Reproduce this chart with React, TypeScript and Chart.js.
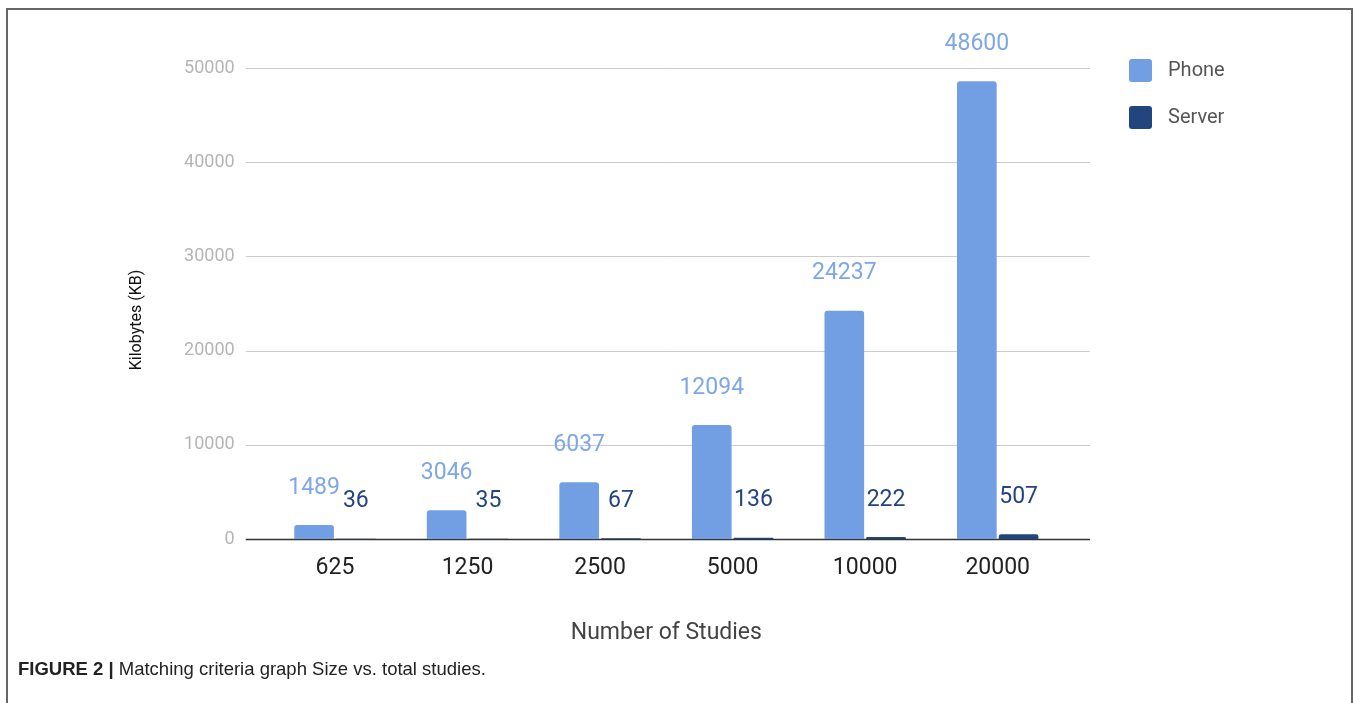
import React, { useEffect, useRef } from "react";
import { Chart, registerables } from "chart.js";

Chart.register(...registerables);

const categories = ["625", "1250", "2500", "5000", "10000", "20000"];
const phoneValues = [1489, 3046, 6037, 12094, 24237, 48600];
const serverValues = [36, 35, 67, 136, 222, 507];
const seriesNames = ["Phone", "Server"];
const seriesColors = ["#729fe4", "#23457f"];
const labelColors = ["#7ea6e8", "#23457f"];
const yTicks = [0, 10000, 20000, 30000, 40000, 50000];
const yTitle = "Kilobytes (KB)";

const FONT = "Roboto, 'Liberation Sans', Arial, sans-serif";

export default function App() {
  const ref = useRef<HTMLCanvasElement | null>(null);

  useEffect(() => {
    document.body.style.margin = "0";
    const canvas = ref.current;
    if (!canvas) return;

    const gridPlugin = {
      id: "gridExt",
      beforeDatasetsDraw(chart: any) {
        const { ctx, chartArea } = chart;
        const y = chart.scales.y;
        ctx.save();
        for (const v of yTicks) {
          const py = Math.round(y.getPixelForValue(v)) + 0.5;
          ctx.beginPath();
          ctx.strokeStyle = v === 0 ? "#333333" : "#cccccc";
          ctx.lineWidth = v === 0 ? 1.5 : 1;
          ctx.moveTo(chartArea.left - 23, py);
          ctx.lineTo(chartArea.right + 26, py);
          ctx.stroke();
        }
        // y axis title
        ctx.translate(137, 320);
        ctx.rotate(-Math.PI / 2);
        ctx.fillStyle = "#111111";
        ctx.font = `16px ${FONT}`;
        ctx.textAlign = "center";
        ctx.textBaseline = "middle";
        ctx.fillText(yTitle, 0, 0);
        ctx.restore();
      },
    };

    const labelPlugin = {
      id: "barLabels",
      afterDatasetsDraw(chart: any) {
        const { ctx } = chart;
        ctx.save();
        ctx.font = `23px ${FONT}`;
        ctx.textAlign = "center";
        ctx.textBaseline = "middle";
        chart.data.datasets.forEach((ds: any, di: number) => {
          const meta = chart.getDatasetMeta(di);
          ctx.fillStyle = labelColors[di];
          meta.data.forEach((bar: any, i: number) => {
            ctx.fillText(String(ds.data[i]), bar.x, bar.y - 37);
          });
        });
        ctx.restore();
      },
    };

    const legendPlugin = {
      id: "customLegend",
      afterDraw(chart: any) {
        const { ctx } = chart;
        ctx.save();
        chart.data.datasets.forEach((ds: any, i: number) => {
          const top = 59 + i * 47;
          ctx.fillStyle = seriesColors[i];
          ctx.beginPath();
          (ctx as any).roundRect(1129, top, 23, 23, 3);
          ctx.fill();
          ctx.fillStyle = "#555555";
          ctx.font = `20px ${FONT}`;
          ctx.textAlign = "left";
          ctx.textBaseline = "middle";
          ctx.fillText(ds.label, 1168, top + 12);
        });
        ctx.restore();
      },
    };

    const chart = new Chart(canvas, {
      type: "bar",
      data: {
        labels: categories,
        datasets: [
          {
            label: seriesNames[0],
            data: phoneValues,
            backgroundColor: seriesColors[0],
            borderRadius: 3,
            borderSkipped: "bottom",
            categoryPercentage: 0.63,
            barPercentage: 0.95,
          },
          {
            label: seriesNames[1],
            data: serverValues,
            backgroundColor: seriesColors[1],
            borderRadius: 3,
            borderSkipped: "bottom",
            categoryPercentage: 0.63,
            barPercentage: 0.95,
          },
        ],
      },
      options: {
        animation: false,
        responsive: false,
        maintainAspectRatio: false,
        layout: { padding: { left: 110, right: 294, top: 68, bottom: 52 } },
        plugins: {
          legend: { display: false },
          tooltip: { enabled: false },
        },
        scales: {
          x: {
            grid: { display: false, drawTicks: false },
            border: { display: false },
            ticks: {
              color: "#222222",
              font: { family: FONT, size: 23 },
              padding: 15,
            },
            title: {
              display: true,
              text: "Number of Studies",
              color: "#444444",
              font: { family: FONT, size: 23 },
              padding: { top: 0, bottom: 4 },
            },
            afterFit: (s: any) => {
              s.height = 112;
            },
          },
          y: {
            min: 0,
            max: 50000,
            grid: { display: false, drawTicks: false },
            border: { display: false },
            ticks: {
              stepSize: 10000,
              color: "#b5b5b5",
              font: { family: FONT, size: 18 },
              padding: 34,
              callback: (v: any) => String(v),
            },
            title: { display: false },
            afterFit: (s: any) => {
              s.width = 158.7;
            },
          },
        },
      },
      plugins: [gridPlugin, labelPlugin, legendPlugin],
    });

    return () => chart.destroy();
  }, []);

  return (
    <div style={{ position: "relative", width: 1358, height: 703, overflow: "hidden", background: "#fff" }}>
      <canvas ref={ref} width={1358} height={703} style={{ position: "absolute", left: 0, top: 0, width: 1358, height: 703 }} />
      <div
        style={{
          position: "absolute",
          left: 6,
          top: 8,
          width: 1347,
          height: 720,
          borderTop: "2px solid #666",
          borderLeft: "2px solid #666",
          borderRight: "2px solid #666",
          boxSizing: "border-box",
          pointerEvents: "none",
        }}
      />
      <div
        style={{
          position: "absolute",
          left: 18,
          top: 658,
          fontFamily: "'Liberation Sans', Arial, sans-serif",
          fontSize: 18.5,
          color: "#222",
          whiteSpace: "nowrap",
        }}
      >
        <b>FIGURE 2 |</b> Matching criteria graph Size vs. total studies.
      </div>
    </div>
  );
}
